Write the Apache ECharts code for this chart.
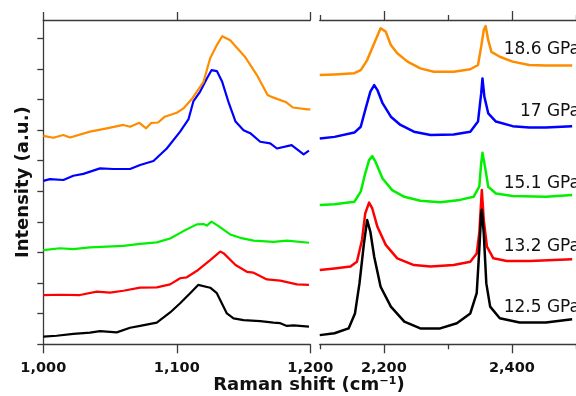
<!DOCTYPE html>
<html><head><meta charset="utf-8">
<script src="https://cdn.jsdelivr.net/npm/echarts@6/dist/echarts.min.js"></script>
<style>html,body{margin:0;padding:0;background:#fff}#c{width:576px;height:396px}</style>
</head><body><div id="c"></div><script>
// ---- data ----
const pressures = ['18.6 GPa', '17 GPa', '15.1 GPa', '13.2 GPa', '12.5 GPa'];
const yTicks = [0,1,2,3,4,5,6,7,8,9,10];
const leftTicks = [1000, 1100, 1200];
const rightMajorTicks = [2200, 2400];
const rightMinorTicks = [2100, 2300, 2500];

// left panel (1000-1200 cm-1)
const oLx = [1000,1007.5,1015,1020,1035,1047.5,1060,1065,1072,1077,1081,1086,1091,1100,1105,1112,1120,1125,1130,1134,1140,1151,1160,1168,1172,1182,1187,1198,1200];
const oLy = [6.81,6.75,6.84,6.76,6.95,7.06,7.17,7.11,7.24,7.06,7.24,7.25,7.44,7.57,7.71,8.06,8.58,9.35,9.78,10.07,9.94,9.40,8.80,8.15,8.07,7.91,7.74,7.68,7.68];
const bLx = [1000,1005,1015,1022.5,1030,1042.5,1052.5,1065,1072.5,1082.5,1092.5,1102.5,1108.7,1112.5,1117.5,1122.5,1126,1130,1134,1139,1144,1150,1155,1162.5,1170,1175,1186,1195,1199];
const bLy = [5.34,5.40,5.37,5.51,5.57,5.75,5.73,5.73,5.86,5.99,6.40,6.95,7.35,7.95,8.26,8.69,8.96,8.93,8.58,7.88,7.28,7.00,6.90,6.62,6.57,6.40,6.51,6.21,6.33];
const gLx = [1000,1012.5,1022.5,1035,1047.5,1060,1072.5,1085,1095,1105,1115,1120,1122.5,1126,1131,1140,1147.5,1157.5,1172.5,1182.5,1199];
const gLy = [3.08,3.14,3.11,3.17,3.19,3.22,3.28,3.33,3.46,3.70,3.92,3.93,3.88,4.01,3.87,3.59,3.48,3.39,3.35,3.39,3.32];
const rLx = [1000,1012.5,1027.5,1040,1050,1060,1072.5,1085,1095,1102.5,1107.5,1116,1125,1132.5,1135,1144,1152.5,1157.5,1167.5,1177.5,1190,1199];
const rLy = [1.61,1.62,1.61,1.72,1.69,1.75,1.85,1.86,1.96,2.16,2.19,2.43,2.75,3.03,2.98,2.59,2.37,2.34,2.12,2.08,1.96,1.94];
const kLx = [1000,1010,1022.5,1035,1042.5,1055,1065,1072.5,1085,1095,1102.5,1110,1116,1125,1130,1137.5,1142.5,1150,1162.5,1172.5,1177.5,1182.5,1187.5,1199];
const kLy = [0.25,0.28,0.34,0.38,0.43,0.39,0.54,0.60,0.71,1.04,1.34,1.67,1.94,1.85,1.67,1.01,0.85,0.79,0.76,0.71,0.69,0.60,0.62,0.58];

// right panel (2100-2500 cm-1)
const oRx = [2100,2123,2154,2164,2174,2185,2195,2203,2211,2221,2237,2257,2278,2309,2335,2347,2352,2356,2359,2363,2368,2381,2401,2427,2453,2494];
const oRy = [8.80,8.82,8.86,8.96,9.29,9.84,10.33,10.22,9.78,9.51,9.24,9.02,8.91,8.91,8.99,9.13,9.73,10.27,10.40,9.94,9.56,9.40,9.24,9.13,9.11,9.11];
const bRx = [2100,2123,2154,2164,2171,2179,2185,2190,2198,2211,2226,2247,2273,2309,2335,2347,2352,2354,2357,2363,2375,2401,2427,2453,2494];
const bRy = [6.73,6.78,6.92,7.11,7.66,8.26,8.47,8.31,7.88,7.44,7.17,6.95,6.84,6.86,6.95,7.28,8.20,8.69,8.09,7.55,7.28,7.13,7.09,7.09,7.13];
const gRx = [2100,2123,2154,2164,2171,2177,2182,2187,2198,2213,2232,2257,2288,2319,2340,2349,2352,2354,2358,2363,2375,2401,2453,2494];
const gRy = [4.55,4.58,4.66,4.99,5.59,6.02,6.15,5.97,5.42,5.04,4.82,4.69,4.64,4.72,4.82,5.15,5.92,6.26,5.80,5.15,4.93,4.85,4.82,4.88];
const rRx = [2100,2123,2148,2158,2166,2171,2177,2182,2190,2203,2221,2247,2273,2309,2335,2345,2349,2353,2356,2361,2371,2392,2428,2494];
const rRy = [2.43,2.48,2.54,2.70,3.41,4.28,4.63,4.44,3.84,3.25,2.81,2.59,2.54,2.59,2.70,2.97,3.63,5.04,4.06,3.19,2.81,2.72,2.72,2.78];
const kRx = [2100,2123,2145,2155,2162,2169,2174,2179,2185,2195,2211,2232,2257,2288,2314,2335,2345,2349,2352,2353,2356,2360,2366,2381,2412,2453,2494];
const kRy = [0.30,0.36,0.52,1.01,1.99,3.30,4.06,3.68,2.86,1.88,1.23,0.74,0.52,0.52,0.69,1.01,1.67,3.08,4.28,4.40,3.63,1.99,1.23,0.85,0.71,0.71,0.82];

// ---- styling ----
const colors = {o:'#ff8c00', b:'#0000ff', g:'#00f000', r:'#ff0000', k:'#000000'};
const axisColor = '#3a3a3a';
const FONT = 'DejaVu Sans';
const zip = (xs, ys) => xs.map((x, i) => [x, ys[i]]);

function lineSeries(xs, ys, color, xi, yi, w) {
  return {type:'line', data: zip(xs, ys), xAxisIndex: xi, yAxisIndex: yi,
    showSymbol:false, symbol:'none', animation:false, silent:true,
    lineStyle:{color: color, width: w, join:'round'}, z: 2};
}
function xAx(grid, pos, min, max, ticks, len, labels, line) {
  return {type:'value', gridIndex: grid, position: pos, min: min, max: max,
    axisLine:{show: line, onZero:false, lineStyle:{color: axisColor, width:1.3}},
    axisTick:{show:true, inside:false, length: len, customValues: ticks, lineStyle:{color: axisColor, width:1.3}},
    axisLabel: labels ? {show:true, customValues: ticks, margin: 16,
        formatter: v => v.toLocaleString('en-US'),
        fontFamily: FONT, fontWeight:'bold', fontSize: 14.5, color:'#111'} : {show:false},
    splitLine:{show:false}};
}

const option = {
  backgroundColor:'#ffffff',
  animation:false,
  grid:[
    {left:43.3, top:20, width:267, height:324.3},
    {left:319.75, top:20, width:259, height:324.3}
  ],
  xAxis:[
    xAx(0,'bottom',1000,1200,leftTicks,9,true,true),
    xAx(0,'top',1000,1200,leftTicks,8,false,true),
    xAx(1,'bottom',2100,2500,rightMajorTicks,9,true,true),
    xAx(1,'bottom',2100,2500,rightMinorTicks,5,false,false),
    xAx(1,'top',2100,2500,rightMajorTicks,9,false,true),
    xAx(1,'top',2100,2500,rightMinorTicks,5,false,false)
  ],
  yAxis:[
    {type:'value', gridIndex:0, min:0, max:10.6,
     axisLine:{show:true, lineStyle:{color: axisColor, width:1.3}},
     axisTick:{show:true, inside:false, length:6, customValues: yTicks, lineStyle:{color: axisColor, width:1.3}},
     axisLabel:{show:false}, splitLine:{show:false},
     name:'Intensity (a.u.)', nameLocation:'middle', nameGap:11,
     nameTextStyle:{fontFamily: FONT, fontWeight:'bold', fontSize:18, color:'#111'}},
    {type:'value', gridIndex:1, min:0, max:10.6, show:false}
  ],
  series:[
    lineSeries(rLx, rLy, colors.r, 0, 0, 2.2),
    lineSeries(gLx, gLy, colors.g, 0, 0, 2.2),
    lineSeries(kLx, kLy, colors.k, 0, 0, 2.2),
    lineSeries(bLx, bLy, colors.b, 0, 0, 2.2),
    lineSeries(oLx, oLy, colors.o, 0, 0, 2.2),
    lineSeries(rRx, rRy, colors.r, 2, 1, 2.5),
    lineSeries(gRx, gRy, colors.g, 2, 1, 2.5),
    lineSeries(kRx, kRy, colors.k, 2, 1, 2.5),
    lineSeries(bRx, bRy, colors.b, 2, 1, 2.5),
    lineSeries(oRx, oRy, colors.o, 2, 1, 2.5)
  ],
  graphic:[
    {type:'text', style:{text:'Raman shift (cm⁻¹)', x:309, y:385, align:'center', verticalAlign:'middle',
      font:'bold 18px "DejaVu Sans"', fill:'#111'}}
  ]
};
// pressure labels
const labelY = [50, 111.7, 184, 247, 307.3];
pressures.forEach((p, i) => {
  option.graphic.push({type:'text', style:{text:p, x:580, y:labelY[i], align:'right', verticalAlign:'middle',
    font:'17px "DejaVu Sans"', fill:'#111'}});
});

const chart = echarts.init(document.getElementById('c'), null, {renderer:'canvas'});
chart.setOption(option);
</script></body></html>
